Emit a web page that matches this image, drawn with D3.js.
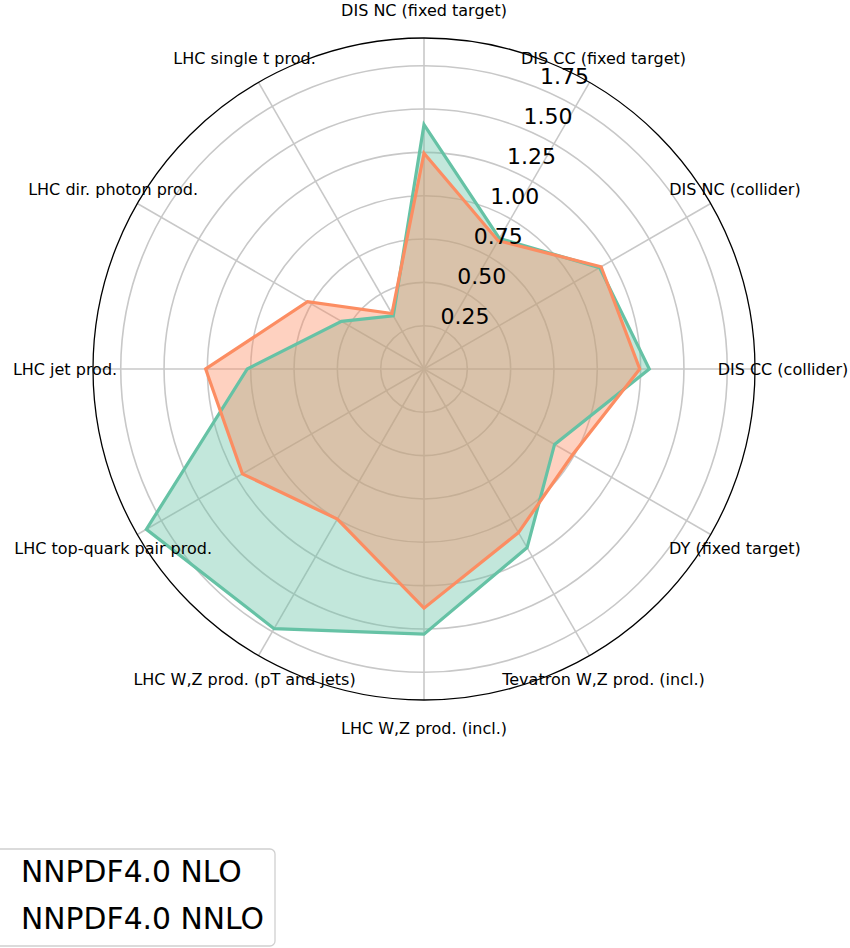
<!DOCTYPE html>
<meta charset="utf-8">
<style>
  body {
    margin: 0;
    background: #fff;
  }

  svg {
    font-family: "DejaVu Sans", sans-serif;
  }

  .grid {
    fill: none;
    stroke: #c8c8c8;
    stroke-width: 1.6;
  }
</style>

<body>
  <svg width="850" height="948"></svg>

  <script src="https://d3js.org/d3.v7.min.js"></script>
  <script>
    var categories = [
      "DIS NC (fixed target)", "DIS CC (fixed target)", "DIS NC (collider)",
      "DIS CC (collider)", "DY (fixed target)", "Tevatron W,Z prod. (incl.)",
      "LHC W,Z prod. (incl.)", "LHC W,Z prod. (pT and jets)", "LHC top-quark pair prod.",
      "LHC jet prod.", "LHC dir. photon prod.", "LHC single t prod."
    ];
    var nlo = [1.41, 0.87, 1.17, 1.30, 0.87, 1.19, 1.53, 1.73, 1.85, 1.02, 0.55, 0.355];
    var nnlo = [1.245, 0.855, 1.18, 1.245, 0.99, 1.09, 1.38, 1.00, 1.21, 1.26, 0.776, 0.37];
    var rTicks = [0.25, 0.5, 0.75, 1.0, 1.25, 1.5, 1.75];
    var seriesNames = ["NNPDF4.0 NLO", "NNPDF4.0 NNLO"];
    var colors = ["#66c2a5", "#fc8d62"];

    var svg = d3.select("svg");
    var cx = 424, cy = 369;
    var outer = 331;

    var r = d3.scaleLinear().domain([0, 1.91]).range([0, outer]);
    var angle = d3.scalePoint()
      .domain(categories)
      .range([0, 2 * Math.PI - 2 * Math.PI / categories.length]);

    var g = svg.append("g")
      .attr("transform", "translate(" + cx + "," + cy + ")");

    // grid circles
    g.selectAll("circle.grid")
      .data(rTicks)
      .enter().append("circle")
      .attr("class", "grid")
      .attr("r", function(d) { return r(d); });

    // spokes
    g.selectAll("line.grid")
      .data(categories)
      .enter().append("line")
      .attr("class", "grid")
      .attr("x1", 0).attr("y1", 0)
      .attr("x2", function(d) { return outer * Math.sin(angle(d)); })
      .attr("y2", function(d) { return -outer * Math.cos(angle(d)); });

    var line = d3.lineRadial()
      .angle(function(d, i) { return angle(categories[i]); })
      .radius(function(d) { return r(d); })
      .curve(d3.curveLinearClosed);

    var series = [nlo, nnlo];

    g.selectAll("path.area")
      .data(series)
      .enter().append("path")
      .attr("d", line)
      .attr("fill", function(d, i) { return colors[i]; })
      .attr("fill-opacity", 0.4)
      .attr("stroke", "none");

    g.selectAll("path.outline")
      .data(series)
      .enter().append("path")
      .attr("d", line)
      .attr("fill", "none")
      .attr("stroke", function(d, i) { return colors[i]; })
      .attr("stroke-width", 3.2)
      .attr("stroke-linejoin", "miter");

    // outer frame
    g.append("circle")
      .attr("r", outer)
      .attr("fill", "none")
      .attr("stroke", "#000")
      .attr("stroke-width", 1.3);

    // radial tick labels at 22.5 deg
    var la = 22.5 * Math.PI / 180;
    g.selectAll("text.rtick")
      .data(rTicks)
      .enter().append("text")
      .attr("x", function(d) { return r(d) * Math.sin(la); })
      .attr("y", function(d) { return -r(d) * Math.cos(la) - 5; })
      .attr("font-size", 22)
      .attr("text-anchor", "start")
      .text(function(d) { return d.toFixed(2); });

    // category labels
    g.selectAll("text.cat")
      .data(categories)
      .enter().append("text")
      .attr("x", function(d) { return 359 * Math.sin(angle(d)); })
      .attr("y", function(d) { return -359 * Math.cos(angle(d)); })
      .attr("font-size", 16)
      .attr("text-anchor", "middle")
      .attr("dominant-baseline", "central")
      .text(function(d) { return d; });

    // legend (handles sit off the left edge)
    var leg = svg.append("g");
    leg.append("rect")
      .attr("x", -60).attr("y", 849)
      .attr("width", 335).attr("height", 97)
      .attr("rx", 5)
      .attr("fill", "#fff").attr("fill-opacity", 0.8)
      .attr("stroke", "#d0d0d0").attr("stroke-width", 1.3);

    leg.selectAll("rect.handle")
      .data(seriesNames)
      .enter().append("rect")
      .attr("x", -45)
      .attr("y", function(d, i) { return 862 + i * 46.5; })
      .attr("width", 40).attr("height", 18)
      .attr("fill", function(d, i) { return colors[i]; })
      .attr("fill-opacity", 0.4);

    leg.selectAll("text")
      .data(seriesNames)
      .enter().append("text")
      .attr("x", 21)
      .attr("y", function(d, i) { return 882 + i * 46.5; })
      .attr("font-size", 29.8)
      .text(function(d) { return d; });
  </script>
</body>
